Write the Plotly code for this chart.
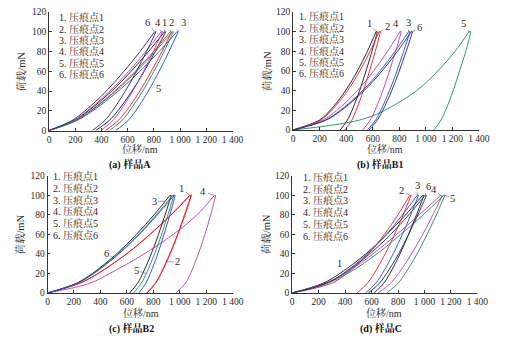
import numpy as np
import plotly.graph_objects as go

W, H = 514, 341

# ---------------- data ----------------
LOAD_LEVELS = [0, 10, 20, 40, 60, 80, 100]          # mN, loading branch
UNLOAD_LEVELS = [100, 100, 80, 60, 40, 20, 10, 0]   # mN, hold end + unloading branch

POINT_NAMES = ["1. 压痕点1", "2. 压痕点2", "3. 压痕点3", "4. 压痕点4", "5. 压痕点5", "6. 压痕点6"]
CURVE_LABELS = ["1", "2", "3", "4", "5", "6"]
PANEL_CAPTIONS = ["(a) 样品A", "(b) 样品B1", "(c) 样品B2", "(d) 样品C"]
X_TITLE = "位移/nm"
Y_TITLE = "荷载/mN"
X_TICK_VALUES = [0, 200, 400, 600, 800, 1000, 1200, 1400]
X_TICK_TEXT = ["0", "200", "400", "600", "800", "1 000", "1 200", "1 400"]
Y_TICK_VALUES = [0, 20, 40, 60, 80, 100, 120]

# displacement (nm) at LOAD_LEVELS
A_LOADING = [
    [0, 189, 301, 478, 626, 759, 880],
    [0, 199, 316, 502, 658, 797, 925],
    [0, 210, 333, 529, 693, 840, 975],
    [0, 184, 292, 464, 608, 737, 855],
    [0, 202, 321, 510, 668, 810, 940],
    [0, 173, 275, 437, 572, 694, 805],
]
# displacement (nm) at UNLOAD_LEVELS (first value = end of hold)
A_UNLOADING = [
    [890, 890, 811, 726, 633, 525, 458, 355],
    [935, 935, 861, 780, 693, 590, 527, 430],
    [985, 985, 915, 840, 757, 661, 602, 510],
    [865, 865, 796, 721, 639, 544, 486, 395],
    [950, 950, 878, 800, 715, 615, 555, 460],
    [815, 815, 744, 667, 582, 484, 424, 330],
]

B1_LOADING = [
    [0, 198, 279, 395, 484, 559, 625],
    [0, 205, 290, 410, 502, 579, 648],
    [0, 242, 356, 523, 655, 768, 870],
    [0, 224, 329, 484, 606, 711, 805],
    [0, 500, 690, 930, 1090, 1220, 1325],
    [0, 247, 364, 535, 670, 786, 890],
]
B1_UNLOADING = [
    [635, 635, 594, 549, 501, 444, 409, 355],
    [658, 658, 619, 576, 529, 475, 442, 390],
    [880, 880, 833, 782, 726, 661, 622, 560],
    [815, 815, 772, 726, 676, 617, 581, 525],
    [1340, 1340, 1301, 1254, 1206, 1149, 1114, 1060],
    [900, 900, 852, 800, 743, 676, 635, 572],
]

B2_LOADING = [
    [0, 243, 381, 596, 773, 932, 1075],
    [0, 244, 382, 598, 776, 935, 1078],
    [0, 219, 339, 522, 672, 805, 925],
    [0, 320, 470, 730, 950, 1130, 1262],
    [0, 224, 346, 533, 687, 822, 945],
    [0, 226, 350, 539, 694, 831, 955],
]
B2_UNLOADING = [
    [1085, 1085, 1036, 983, 924, 856, 815, 750],
    [1088, 1088, 1039, 986, 927, 859, 818, 752],
    [935, 935, 889, 839, 784, 720, 681, 620],
    [1272, 1272, 1233, 1190, 1140, 1081, 1042, 970],
    [955, 955, 910, 862, 809, 747, 709, 650],
    [965, 965, 925, 881, 833, 777, 743, 690],
]

C_LOADING = [
    [0, 233, 361, 556, 716, 857, 985],
    [0, 297, 413, 575, 697, 799, 889],
    [0, 263, 387, 568, 712, 834, 945],
    [0, 250, 400, 610, 790, 960, 1122],
    [0, 260, 420, 640, 820, 990, 1145],
    [0, 259, 390, 586, 745, 881, 1005],
]
C_UNLOADING = [
    [995, 995, 940, 880, 815, 739, 692, 620],
    [899, 899, 839, 774, 703, 620, 569, 490],
    [955, 955, 896, 833, 763, 682, 632, 555],
    [1135, 1135, 1064, 987, 902, 804, 744, 650],
    [1155, 1155, 1090, 1020, 944, 854, 800, 715],
    [1015, 1015, 950, 880, 804, 714, 660, 575],
]

PANEL_LOADING = [A_LOADING, B1_LOADING, B2_LOADING, C_LOADING]
PANEL_UNLOADING = [A_UNLOADING, B1_UNLOADING, B2_UNLOADING, C_UNLOADING]

# ---------------- styles / layout ----------------
BLACK, RED, BLUE, MAGENTA, GREEN, NAVY = "#151515", "#e3202a", "#2a46c8", "#b240b4", "#23875a", "#24265e"
PANEL_COLORS = [
    [BLACK, RED, BLUE, MAGENTA, GREEN, NAVY],
    [BLACK, RED, BLUE, MAGENTA, GREEN, NAVY],
    [RED, RED, BLACK, MAGENTA, GREEN, BLUE],
    [BLACK, RED, BLUE, MAGENTA, GREEN, NAVY],
]

# plot areas in pixels: (x_left, x_right, y_top, y_bottom)
PANEL_BOXES = [
    (48.3, 236.5, 7.3, 129.3),
    (298.7, 489.3, 7.3, 128.7),
    (46.7, 236.7, 176.0, 296.7),
    (297.7, 487.7, 176.0, 296.7),
]
# curve labels: (curve index, branch, load level, dx px, dy px)
LABEL_SPECS = [
    [(5, "load", 100, -7, -9), (3, "load", 100, -3, -9), (0, "load", 100, 0, -9),
     (1, "load", 100, 1, -9), (2, "unload", 100, 5, -9), (4, "unload", 50, 10, 7)],
    [(0, "load", 100, -7, -8), (1, "unload", 100, 7, -5), (3, "load", 100, -4, -8),
     (2, "load", 100, 0, -9), (5, "unload", 100, 7, -4), (4, "load", 100, -5, -8)],
    [(0, "load", 100, -8, -7), (3, "load", 100, -11, -4), (2, "load", 94, -11, 0),
     (5, "load", 36, -7, -4), (4, "unload", 20, -10, -3), (1, "unload", 32, 11, 0)],
    [(1, "load", 100, -8, -5), (2, "load", 100, 0, -10), (5, "load", 100, 3, -9),
     (3, "load", 100, -7, -6), (4, "unload", 100, 8, 3), (0, "load", 23, -4, -7)],
]
LEGEND_POS = [(56, 12.7, 11.7), (303, 11.5, 11.8), (50, 176.5, 12.0), (307, 176.8, 12.3)]
Y_TITLE_POS = [(20, 68.3), (272, 68.0), (18.5, 236.5), (270.5, 236.5)]
X_TITLE_POS = [(141.7, 148.5), (393, 148.5), (142.7, 317.5), (392, 317.5)]
CAPTION_POS = [(131.7, 164.5), (387.7, 164.5), (133.3, 333.2), (388.7, 333.5)]

SERIF = "Liberation Serif, 'Noto Serif CJK SC', 'Noto Sans CJK SC', serif"
TEXT_COLOR = "#2a2a2a"


def px(x):
    return x / W


def py(y):
    return 1 - y / H


fig = go.Figure()
annotations = []
layout_axes = {}

for p in range(4):
    xl, xr, yt, yb = PANEL_BOXES[p]
    suffix = "" if p == 0 else str(p + 1)
    xa, ya = "x" + suffix, "y" + suffix
    layout_axes["xaxis" + suffix] = dict(
        domain=[px(xl), px(xr)], anchor=ya, range=[0, 1400],
        tickvals=X_TICK_VALUES, ticktext=X_TICK_TEXT,
        ticks="inside", ticklen=3, tickwidth=0.8, tickcolor="#333",
        showline=True, linecolor="#333", linewidth=0.9, showgrid=False, zeroline=False,
        tickfont=dict(family=SERIF, size=9.5, color=TEXT_COLOR),
    )
    layout_axes["yaxis" + suffix] = dict(
        domain=[py(yb), py(yt)], anchor=xa, range=[0, 120],
        tickvals=Y_TICK_VALUES,
        ticks="inside", ticklen=3, tickwidth=0.8, tickcolor="#333",
        showline=True, linecolor="#333", linewidth=0.9, showgrid=False, zeroline=False,
        tickfont=dict(family=SERIF, size=9.5, color=TEXT_COLOR),
    )

    loading = PANEL_LOADING[p]
    unloading = PANEL_UNLOADING[p]
    colors = PANEL_COLORS[p]
    for c in range(6):
        col = colors[c]
        lw = 0.9
        # loading branch
        fig.add_trace(go.Scatter(
            x=loading[c], y=LOAD_LEVELS, mode="lines", xaxis=xa, yaxis=ya,
            line=dict(color=col, width=lw, shape="spline", smoothing=1.0),
            showlegend=False, hoverinfo="skip"))
        # hold segment
        fig.add_trace(go.Scatter(
            x=[loading[c][-1], unloading[c][0]], y=[LOAD_LEVELS[-1], UNLOAD_LEVELS[0]],
            mode="lines", xaxis=xa, yaxis=ya, line=dict(color=col, width=lw),
            showlegend=False, hoverinfo="skip"))
        # unloading branch
        fig.add_trace(go.Scatter(
            x=unloading[c][1:], y=UNLOAD_LEVELS[1:], mode="lines", xaxis=xa, yaxis=ya,
            line=dict(color=col, width=lw, shape="spline", smoothing=1.0),
            showlegend=False, hoverinfo="skip"))

    # curve number labels
    for (c, branch, load, dx, dy) in LABEL_SPECS[p]:
        if branch == "load":
            hx = float(np.interp(load, LOAD_LEVELS, loading[c]))
        else:
            lv = UNLOAD_LEVELS[1:][::-1]
            hv = unloading[c][1:][::-1]
            hx = float(np.interp(load, lv, hv))
            if load >= 100:
                hx = unloading[c][0]
        annotations.append(dict(
            x=hx, y=load, xref=xa, yref=ya, text=CURVE_LABELS[c],
            showarrow=True, arrowhead=0, arrowwidth=0.6, arrowcolor="#555",
            ax=dx, ay=dy, standoff=0,
            font=dict(family=SERIF, size=10.5, color=TEXT_COLOR)))

    # legend-like text block
    lx, ly0, ldy = LEGEND_POS[p]
    for i, name in enumerate(POINT_NAMES):
        annotations.append(dict(
            x=px(lx), y=py(ly0 + i * ldy), xref="paper", yref="paper",
            text=name, showarrow=False, xanchor="left", yanchor="middle",
            font=dict(family=SERIF, size=10, color=TEXT_COLOR)))

    # axis titles and caption
    tx, ty = Y_TITLE_POS[p]
    annotations.append(dict(x=px(tx), y=py(ty), xref="paper", yref="paper", text=Y_TITLE,
                            showarrow=False, textangle=-90, xanchor="center", yanchor="middle",
                            font=dict(family=SERIF, size=10.5, color=TEXT_COLOR)))
    tx, ty = X_TITLE_POS[p]
    annotations.append(dict(x=px(tx), y=py(ty), xref="paper", yref="paper", text=X_TITLE,
                            showarrow=False, xanchor="center", yanchor="middle",
                            font=dict(family=SERIF, size=10, color=TEXT_COLOR)))
    tx, ty = CAPTION_POS[p]
    annotations.append(dict(x=px(tx), y=py(ty), xref="paper", yref="paper",
                            text="<b>" + PANEL_CAPTIONS[p] + "</b>",
                            showarrow=False, xanchor="center", yanchor="middle",
                            font=dict(family=SERIF, size=10, color="#111")))

fig.update_layout(
    width=W, height=H, margin=dict(l=0, r=0, t=0, b=0),
    paper_bgcolor="white", plot_bgcolor="white",
    showlegend=False, annotations=annotations, **layout_axes)

fig.write_html("out.html")
